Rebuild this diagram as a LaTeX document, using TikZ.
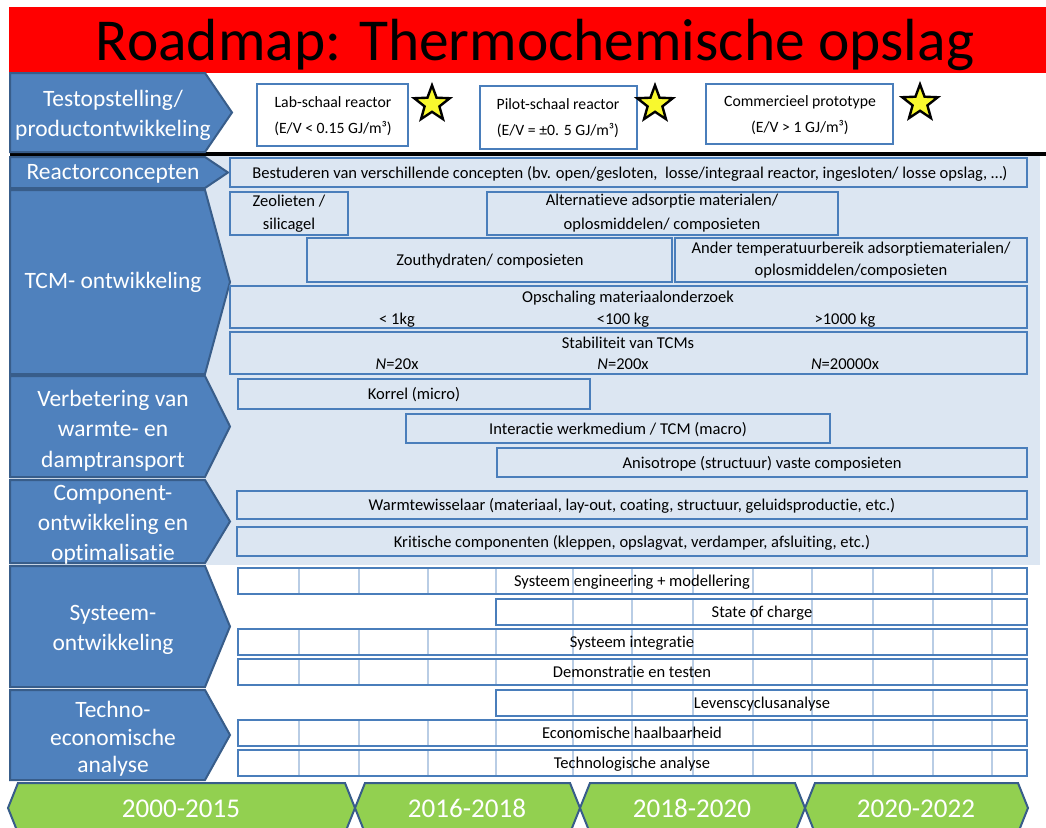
\documentclass[tikz,border=0pt]{standalone}
\usepackage{fontspec}
\setmainfont{Carlito}[Ligatures=NoCommon]
\usetikzlibrary{shapes.geometric}

\definecolor{titlered}{HTML}{FF0000}
\definecolor{laneblue}{HTML}{4F81BD}
\definecolor{laneedge}{HTML}{385D8A}
\definecolor{panelblue}{HTML}{DCE6F2}
\definecolor{baredge}{HTML}{4A7EBB}
\definecolor{cellline}{HTML}{B9CDE5}
\definecolor{periodgreen}{HTML}{92D050}
\definecolor{staryellow}{HTML}{F8F82E}

\tikzset{every picture/.style={line width=0.75pt}}
\tikzset{
  lane/.style={draw=laneedge, fill=laneblue, line width=1.5pt},
  lanetext/.style={text=white, align=center, inner sep=0.75pt, font=\fontsize{17.6}{22.5}\selectfont},
  bar/.style={draw=baredge, line width=1.1pt},
  bartext/.style={align=center, inner sep=0.75pt, font=\fontsize{12.4}{17}\selectfont},
  barline/.style={bartext, text height=10.2pt, text depth=1.4pt},
  cellbar/.style={bar, fill=white},
  cellsep/.style={draw=cellline, line width=0.9pt},
  goalbox/.style={draw=baredge, fill=white, line width=1.1pt},
  goaltext/.style={align=center, inner sep=0.75pt, font=\fontsize{11.8}{19.5}\selectfont},
  goalstar/.style={star, star points=5, star point ratio=2.4, draw=black, fill=staryellow, line width=1.8pt, minimum size=28pt, inner sep=0pt},
  period/.style={draw=laneedge, fill=periodgreen, line width=1.5pt},
  periodtext/.style={text=white, inner sep=0.75pt, anchor=base, font=\fontsize{20.3}{24}\selectfont}
}

% column positions of the cells in the lower bars
\def\colsfull{299,359,428,496,573,632,693,753,812,873,933,992}
\def\colslate{573,632,693,753,812,873,933,992}

\begin{document}
\begin{tikzpicture}[x=0.75pt,y=0.75pt,yscale=-1,xscale=1]
\useasboundingbox (0,0) rectangle (1046,828);
\fill[white] (0,0) rectangle (1046,828);

% Title bar
\fill[titlered] (9,7) rectangle (1046,73);
\draw (535,60) node [anchor=base, inner sep=0.75pt, font=\fontsize{44.6}{50}\selectfont] (title) {Roadmap: Thermochemische opslag};

% Background panel
\fill[panelblue] (10,155) rectangle (1040,565);
% Separator line
\draw [line width=2.4pt] (10,154) -- (1046,154);

% Lanes
\draw [lane] (10,73) -- (205,73) -- (232,112.5) -- (205,152) -- (10,152) -- cycle;
\draw [lane] (10,157) -- (205,157) -- (228,172.5) -- (205,188) -- (10,188) -- cycle;
\draw [lane] (10,190) -- (205,190) -- (230,282) -- (205,374) -- (10,374) -- cycle;
\draw [lane] (10,376) -- (205,376) -- (230,426.5) -- (205,477) -- (10,477) -- cycle;
\draw [lane] (10,480) -- (205,480) -- (230,521.5) -- (205,563) -- (10,563) -- cycle;
\draw [lane] (10,566) -- (205,566) -- (230,626.5) -- (205,687) -- (10,687) -- cycle;
\draw [lane] (10,690) -- (205,690) -- (230,735) -- (205,780) -- (10,780) -- cycle;

% Lane labels
\draw (113,115) node [lanetext] (testop) {Testopstelling/\\productontwikkeling};
\draw (113,174) node [lanetext, text height=12.5pt, text depth=3.8pt] (reactor) {Reactorconcepten};
\draw (113,283) node [lanetext, text height=12.5pt, text depth=3.8pt] (tcm) {TCM- ontwikkeling};
\draw (113,430.5) node [lanetext, font=\fontsize{17.6}{22.8}\selectfont] (transport) {Verbetering van\\warmte- en\\damptransport};
\draw (113,525) node [lanetext] (component) {Component-\\ontwikkeling en\\optimalisatie};
\draw (113,630) node [lanetext] (systeem) {Systeem-\\ontwikkeling};
\draw (113,739) node [lanetext, font=\fontsize{17.6}{20.5}\selectfont] (techno) {Techno-\\economische\\analyse};

% Prototype goals
\draw [goalbox] (257,84) rectangle (408,146);
\draw (333,116) node [goaltext] (lab) {Lab-schaal reactor\\(E/V < 0.15 GJ/m³)};
\node [goalstar] (labstar) at (432,104) {};
\draw [goalbox] (480,86) rectangle (637,149);
\draw (558,118) node [goaltext] (pilot) {Pilot-schaal reactor\\(E/V = ±0. 5 GJ/m³)};
\node [goalstar] (pilotstar) at (655,104) {};
\draw [goalbox] (706,84) rectangle (893,144);
\draw (800,115) node [goaltext] (comm) {Commercieel prototype\\(E/V > 1 GJ/m³)};
\node [goalstar] (commstar) at (920,103) {};

% Reactorconcepten
\draw [bar] (230,158) rectangle (1027,187);
\draw (630,172.5) node [barline] (concepten) {Bestuderen van verschillende concepten (bv. open/gesloten,\ \ losse/integraal reactor, ingesloten/ losse opslag, …)};

% TCM
\draw [bar] (230,192) rectangle (348,235);
\draw (289,213.5) node [bartext, font=\fontsize{12.4}{17.5}\selectfont] (zeoliet) {Zeolieten /\\silicagel};
\draw [bar] (487,192) rectangle (838,235);
\draw (662,213.5) node [bartext, font=\fontsize{12.4}{18}\selectfont] (alternatief) {Alternatieve adsorptie materialen/\\oplosmiddelen/ composieten};
\draw [bar] (307,238) rectangle (672,282);
\draw (490,260) node [barline] (zout) {Zouthydraten/ composieten};
\draw [bar] (675,238) rectangle (1027,282);
\draw (851,260) node [bartext] (ander) {Ander temperatuurbereik adsorptiematerialen/\\oplosmiddelen/composieten};
\draw [bar] (230,286) rectangle (1027,328);
\draw (628,297) node [barline] (opschaling) {Opschaling materiaalonderzoek};
\draw (397,319) node [barline] (kg1) {< 1kg};
\draw (623,319) node [barline] (kg100) {<100 kg};
\draw (845,319) node [barline] (kg1000) {>1000 kg};
\draw [bar] (230,332) rectangle (1027,374);
\draw (628,343) node [barline] (stabiliteit) {Stabiliteit van TCMs};
\draw (397,364) node [barline] (n20) {\textit{N}=20x};
\draw (623,364) node [barline] (n200) {\textit{N}=200x};
\draw (845,364) node [barline] (n20000) {\textit{N}=20000x};

% Warmte- en damptransport
\draw [bar] (238,379) rectangle (590,409);
\draw (414,394) node [barline] (korrel) {Korrel (micro)};
\draw [bar] (406,414) rectangle (830,443);
\draw (618,428.5) node [barline] (interactie) {Interactie werkmedium / TCM (macro)};
\draw [bar] (497,448) rectangle (1027,477);
\draw (762,462.5) node [barline] (anisotroop) {Anisotrope (structuur) vaste composieten};

% Componenten
\draw [bar] (237,491) rectangle (1027,519);
\draw (632,505) node [barline] (wisselaar) {Warmtewisselaar (materiaal, lay-out, coating, structuur, geluidsproductie, etc.)};
\draw [bar] (237,527) rectangle (1027,556);
\draw (632,541.5) node [barline] (kritisch) {Kritische componenten (kleppen, opslagvat, verdamper, afsluiting, etc.)};

% Systeem
\draw [cellbar] (238,568) rectangle (1027,594);
\foreach \gx in \colsfull {\draw [cellsep] (\gx,568) -- (\gx,594);}
\draw [bar] (238,568) rectangle (1027,594);
\draw (632,581) node [barline] (engineering) {Systeem engineering + modellering};
\draw [cellbar] (496,599) rectangle (1027,625);
\foreach \gx in \colslate {\draw [cellsep] (\gx,599) -- (\gx,625);}
\draw [bar] (496,599) rectangle (1027,625);
\draw (762,612) node [barline] (charge) {State of charge};
\draw [cellbar] (238,629) rectangle (1027,655);
\foreach \gx in \colsfull {\draw [cellsep] (\gx,629) -- (\gx,655);}
\draw [bar] (238,629) rectangle (1027,655);
\draw (632,642) node [barline] (integratie) {Systeem integratie};
\draw [cellbar] (238,659) rectangle (1027,685);
\foreach \gx in \colsfull {\draw [cellsep] (\gx,659) -- (\gx,685);}
\draw [bar] (238,659) rectangle (1027,685);
\draw (632,672) node [barline] (demo) {Demonstratie en testen};

% Techno-economisch
\draw [cellbar] (496,690) rectangle (1027,716);
\foreach \gx in \colslate {\draw [cellsep] (\gx,690) -- (\gx,716);}
\draw [bar] (496,690) rectangle (1027,716);
\draw (762,703) node [barline] (lca) {Levenscyclusanalyse};
\draw [cellbar] (238,720) rectangle (1027,746);
\foreach \gx in \colsfull {\draw [cellsep] (\gx,720) -- (\gx,746);}
\draw [bar] (238,720) rectangle (1027,746);
\draw (632,733) node [barline] (economisch) {Economische haalbaarheid};
\draw [cellbar] (238,750) rectangle (1027,776);
\foreach \gx in \colsfull {\draw [cellsep] (\gx,750) -- (\gx,776);}
\draw [bar] (238,750) rectangle (1027,776);
\draw (632,763) node [barline] (technologisch) {Technologische analyse};

% Time line
\draw [period] (8,808) -- (18,783) -- (345,783) -- (355,808) -- (345,833) -- (18,833) -- cycle;
\draw [period] (355,808) -- (365,783) -- (570,783) -- (580,808) -- (570,833) -- (365,833) -- cycle;
\draw [period] (580,808) -- (590,783) -- (795,783) -- (805,808) -- (795,833) -- (590,833) -- cycle;
\draw [period] (805,808) -- (815,783) -- (1018,783) -- (1028,808) -- (1018,833) -- (815,833) -- cycle;
\draw (181,817) node [periodtext] (p1) {2000-2015};
\draw (467,817) node [periodtext] (p2) {2016-2018};
\draw (692,817) node [periodtext] (p3) {2018-2020};
\draw (916,817) node [periodtext] (p4) {2020-2022};

\end{tikzpicture}
\end{document}
